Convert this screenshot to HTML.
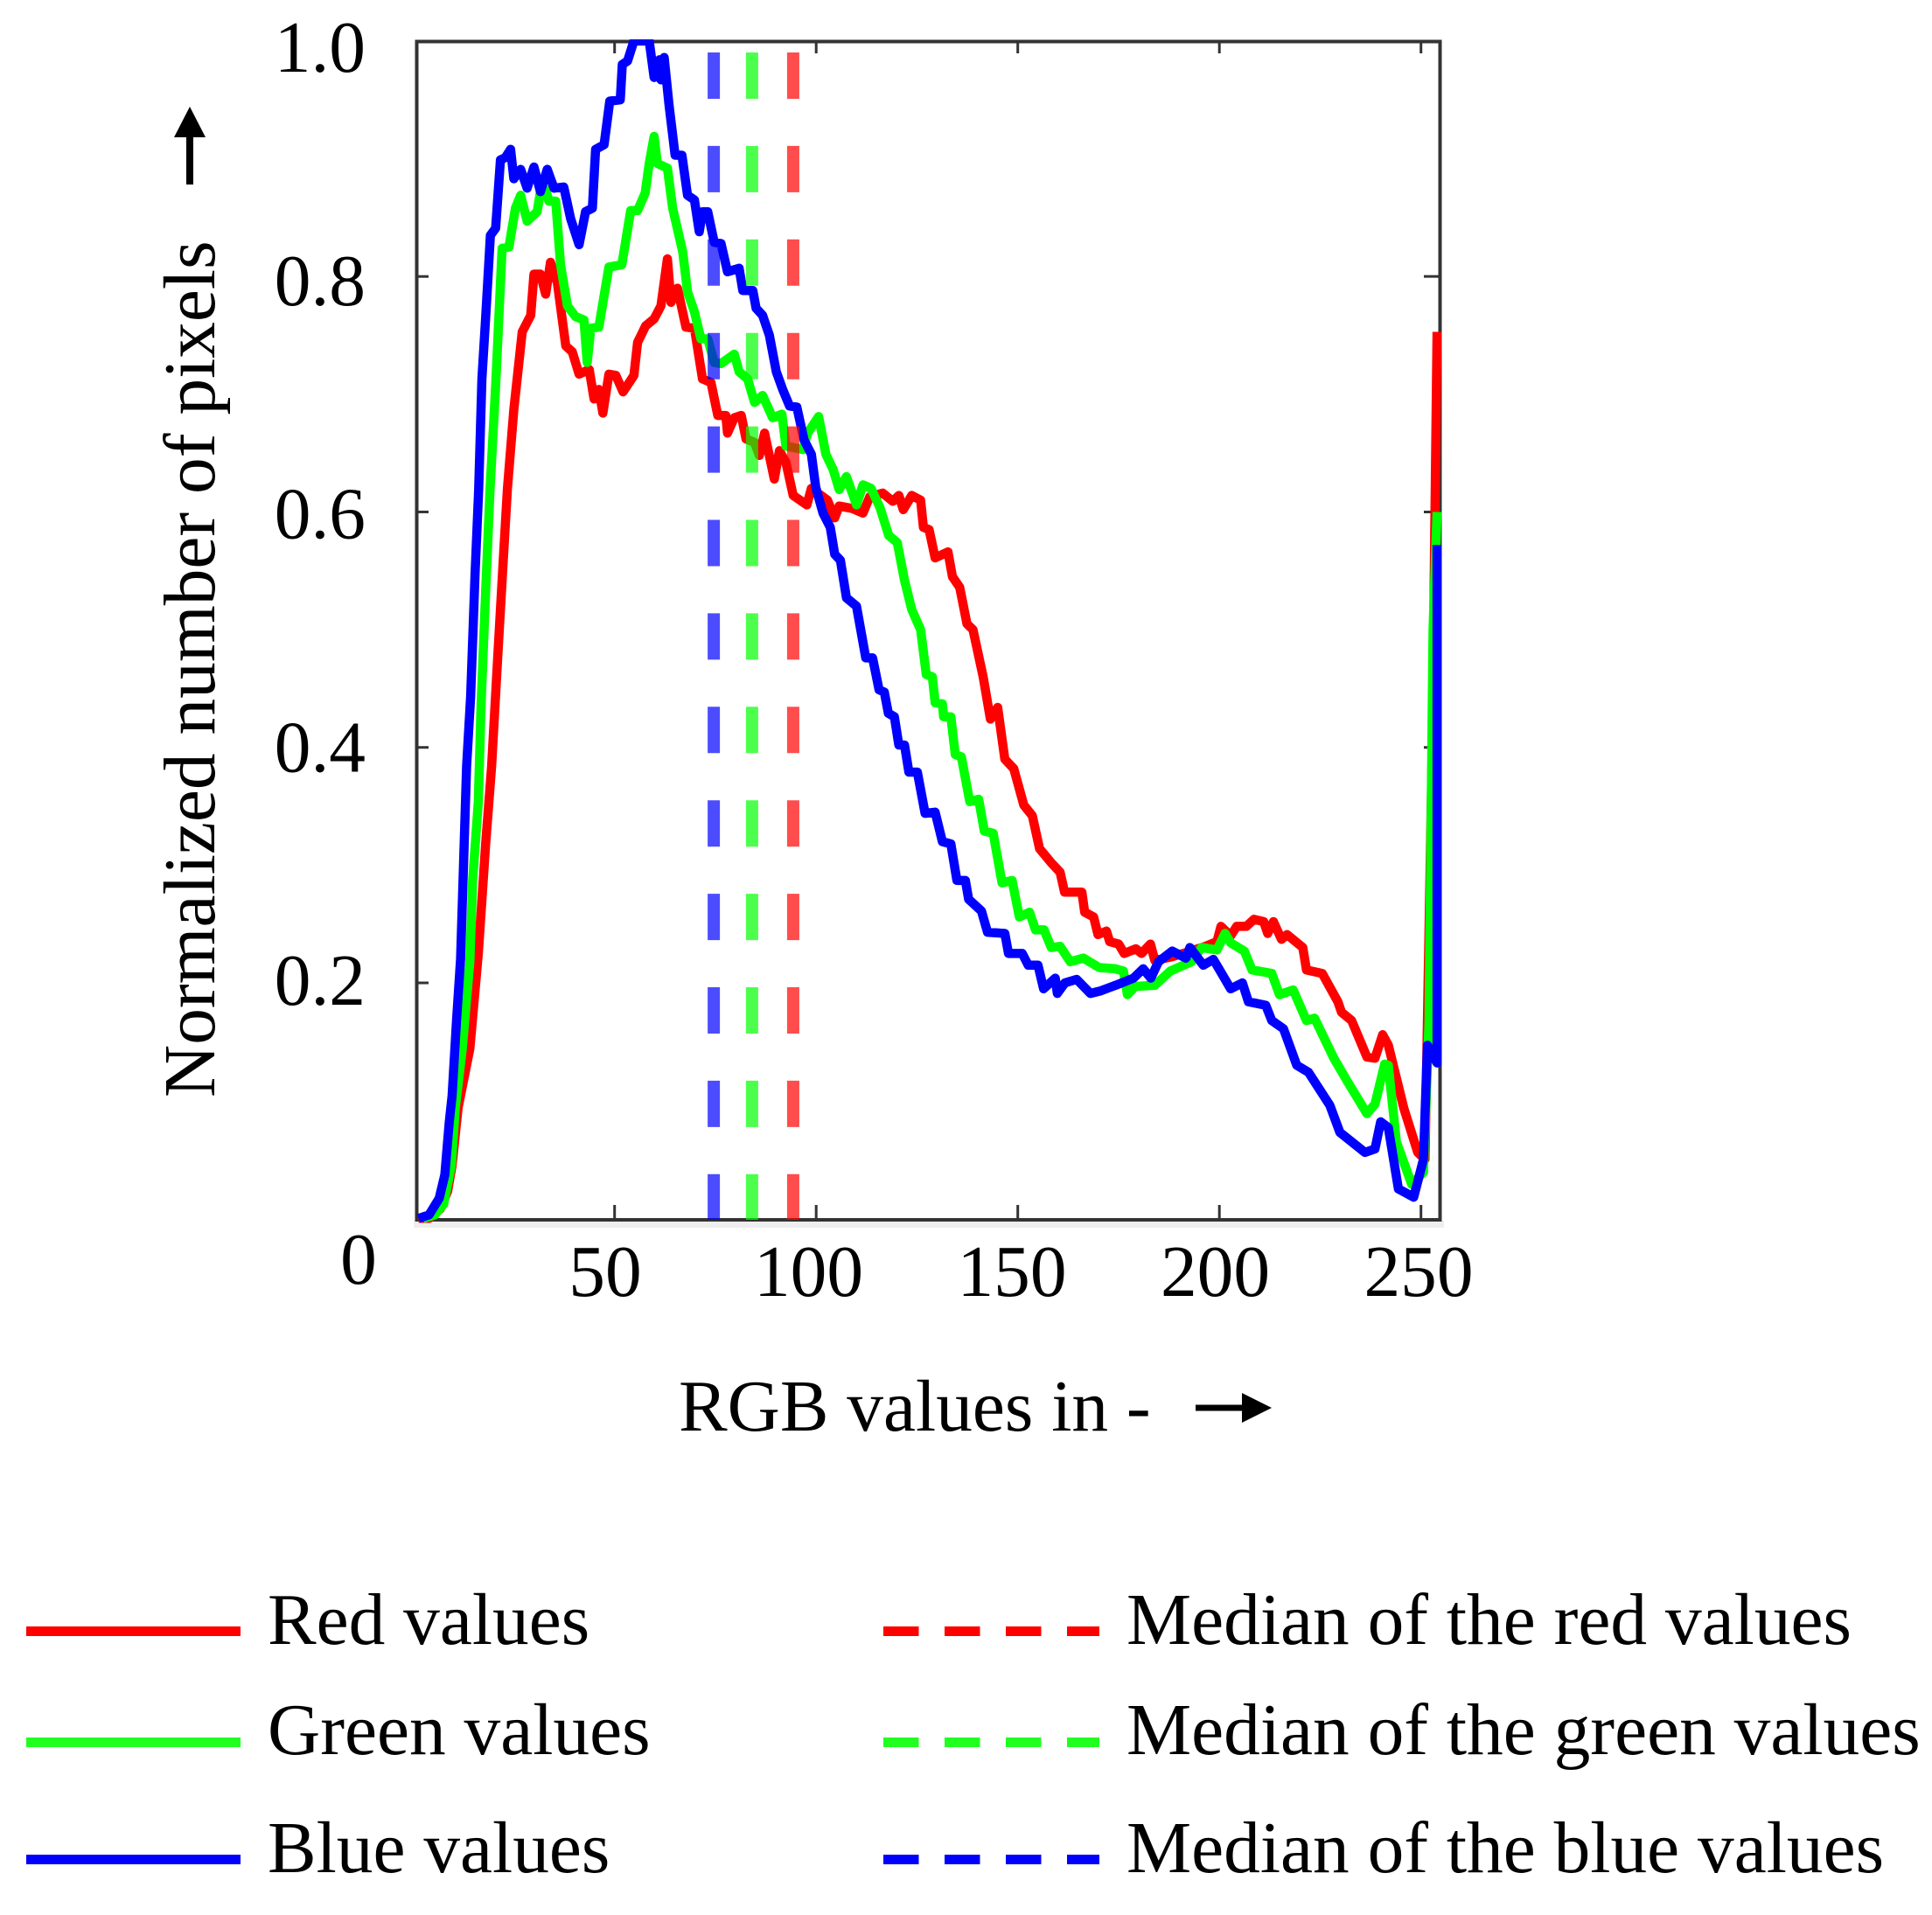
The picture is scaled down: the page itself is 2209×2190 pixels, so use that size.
<!DOCTYPE html>
<html lang="en">
<head>
<meta charset="utf-8">
<title>RGB histogram</title>
<style>
html,body{margin:0;padding:0;background:#fff;}
svg{display:block;}
text{font-family:"Liberation Serif",serif;font-size:83.4px;fill:#000;}
</style>
</head>
<body>
<svg id="chart" xmlns="http://www.w3.org/2000/svg" width="2209" height="2190" viewBox="0 0 2209 2190">
  <defs>
    <clipPath id="plot-clip"><rect x="473" y="45" width="1176" height="1356"></rect></clipPath>
  </defs>
  <rect x="473" y="1396" width="1178" height="8" fill="#eeeeee"></rect>
  <rect x="476.5" y="47.5" width="1170" height="1347.5" fill="none" stroke="#333333" stroke-width="4"></rect>
  <g id="ticks"></g>
  <g id="tick-labels"></g>
  <g id="series" clip-path="url(#plot-clip)"></g>
  <g id="medians"></g>

  <text transform="translate(245,1255) rotate(-90)">Normalized number of pixels</text>
  <polygon points="213,211 221,211 221,157 235,157 217,122 199,157 213,157" fill="#000"></polygon>
  <text x="776" y="1636">RGB values in -</text>
  <polygon points="1367,1606.5 1420,1606.5 1420,1593 1454,1610 1420,1627 1420,1613.5 1367,1613.5" fill="#000"></polygon>

  <g>
    <rect x="30" y="1860" width="245" height="11" fill="#ff0000"></rect>
    <text x="306" y="1880">Red values</text>
    <rect x="30" y="1987" width="245" height="11" fill="#20ff20"></rect>
    <text x="306" y="2006">Green values</text>
    <rect x="30" y="2121" width="245" height="11" fill="#0000ff"></rect>
    <text x="306" y="2141">Blue values</text>
    <line x1="1010" x2="1257" y1="1865.5" y2="1865.5" stroke="#ff0000" stroke-width="11" stroke-dasharray="40.5 29.5"></line>
    <text x="1288" y="1880">Median of the red values</text>
    <line x1="1010" x2="1257" y1="1992.5" y2="1992.5" stroke="#20ff20" stroke-width="11" stroke-dasharray="40.5 29.5"></line>
    <text x="1288" y="2006">Median of the green values</text>
    <line x1="1010" x2="1257" y1="2126.5" y2="2126.5" stroke="#0000ff" stroke-width="11" stroke-dasharray="40.5 29.5"></line>
    <text x="1288" y="2141">Median of the blue values</text>
  </g>
</svg>
<script>
const xTickValues = [50, 100, 150, 200, 250];
const xTickLabels = ["50", "100", "150", "200", "250"];
const yTickValues = [0.2, 0.4, 0.6, 0.8];
const yTickLabels = ["0.2", "0.4", "0.6", "0.8", "1.0"];
const yLabelValues = [0.2, 0.4, 0.6, 0.8, 1.0];
const medianRed = 94.3;
const medianGreen = 84.1;
const medianBlue = 74.6;

const redX = [1.4,4,6.8,8.6,9.7,11.2,14.1,16.2,18,19.5,20.9,22.4,23.4,25,27.1,29.2,30,31.6,32.9,34.1,35.8,37.9,39.5,41.2,43.7,44.9,46.1,47.1,48.6,50.3,52.1,54.8,55.7,57.7,59.8,61.5,63.1,64,65.6,67.7,69.8,71.8,73.9,75.6,77.6,78,79.7,81.4,82.6,84.7,85.9,87.2,89.6,90.9,92.5,94.3,97.7,98.8,102.8,104.6,105.7,108.9,111.6,113.3,116.5,119,120.5,121.6,123.7,125.9,126.6,128,129.5,132.7,133.8,135.6,137.4,138.9,141.4,143.2,145,146.8,149,151.5,153.6,155.4,158.3,160.5,161.6,165.9,166.6,168.8,169.9,172,172.8,175,176.4,179.3,180.7,182.9,184,188,192,196.5,199.4,200.4,202.8,204.3,206.7,208.6,211,212,213.4,215.4,216.8,220.7,221.6,225.5,229.4,230.3,232.8,236.6,238.6,240.5,241.9,245.8,249.2,251,252.8,254];
const redY = [0,0,0.008,0.023,0.045,0.094,0.144,0.225,0.317,0.384,0.469,0.56,0.619,0.687,0.753,0.767,0.802,0.802,0.785,0.812,0.795,0.741,0.736,0.717,0.721,0.696,0.704,0.684,0.717,0.716,0.702,0.716,0.744,0.758,0.764,0.775,0.815,0.778,0.79,0.757,0.756,0.713,0.71,0.682,0.682,0.667,0.68,0.682,0.662,0.659,0.648,0.667,0.628,0.652,0.642,0.614,0.606,0.62,0.61,0.595,0.605,0.603,0.599,0.613,0.616,0.609,0.614,0.602,0.614,0.61,0.587,0.585,0.561,0.566,0.545,0.536,0.505,0.5,0.46,0.424,0.434,0.39,0.382,0.351,0.342,0.314,0.302,0.294,0.277,0.277,0.26,0.256,0.241,0.244,0.235,0.233,0.225,0.229,0.225,0.233,0.219,0.222,0.226,0.231,0.235,0.248,0.24,0.248,0.248,0.254,0.252,0.242,0.252,0.237,0.241,0.23,0.211,0.208,0.184,0.175,0.168,0.137,0.136,0.156,0.147,0.093,0.056,0.05,0.4,0.753];

const greenX = [2.5,5.4,7.6,9.5,10.5,12.2,14.1,14.8,16.2,16.9,18,19.1,20.5,22.1,23.8,25.4,26.7,28.3,30.8,31.6,32.9,33.7,35.4,36.6,38.3,40.3,42.4,43.2,44.1,46.1,48.6,51.8,54,55.7,57.6,58.6,59.8,60.6,63.1,64.4,66.9,68.1,69.8,71.4,73.1,74.7,76.4,79.7,80.9,83,84.7,86.7,89.2,91.5,92.5,96.7,97.9,100.6,102.4,104.2,105.7,107.5,110,111.6,113.6,115.8,118,120.1,121.9,123.7,125.9,127.3,128.8,129.5,131.3,131.6,133.4,134.5,136,138.1,140.3,141.7,143.9,146.1,148.6,150.4,152.9,154.4,156.5,158.3,160.5,163,166.3,170.2,174.2,176.2,177.2,179.1,184,187.8,193.1,195.6,199.4,201.4,202.8,206.2,208.1,213,214.9,218.3,221.6,223.6,228.4,231.8,236.6,238.6,241,241.9,243.9,247.7,250.6,252,253,254];
const greenY = [0,0.003,0.012,0.045,0.094,0.143,0.218,0.287,0.354,0.437,0.531,0.619,0.707,0.824,0.825,0.858,0.869,0.847,0.855,0.872,0.874,0.864,0.864,0.81,0.775,0.766,0.763,0.727,0.756,0.757,0.808,0.81,0.856,0.856,0.871,0.896,0.919,0.896,0.892,0.858,0.821,0.787,0.77,0.747,0.747,0.727,0.726,0.734,0.719,0.713,0.693,0.699,0.68,0.683,0.656,0.653,0.667,0.681,0.649,0.636,0.619,0.63,0.606,0.623,0.62,0.604,0.58,0.574,0.542,0.517,0.5,0.462,0.46,0.438,0.437,0.426,0.426,0.394,0.392,0.354,0.356,0.329,0.327,0.285,0.287,0.256,0.26,0.245,0.245,0.23,0.231,0.218,0.221,0.213,0.212,0.21,0.19,0.197,0.198,0.21,0.218,0.23,0.228,0.242,0.234,0.227,0.211,0.208,0.19,0.194,0.168,0.17,0.136,0.116,0.089,0.097,0.131,0.13,0.065,0.029,0.039,0.167,0.5,0.6];

const blueX = [1.4,4,6.5,7.9,9,9.7,10.8,11.8,13.3,14.3,15.4,16.3,17.1,18,19.2,20.5,21.7,22.9,24.2,25,26.7,28.3,30,31.6,33.3,35,37.4,39.1,41.2,42.8,44.5,45.3,47.4,48.8,51.4,51.9,53.2,54.8,58.6,59.8,61.1,61.5,62.3,63.5,65,66.7,68.1,69.8,71,71.8,73.1,74.7,76.4,78,80.9,81.8,84.3,85.1,86.7,88.4,90.1,91.7,93.4,95.2,97,98.8,99.9,101.7,103.5,104.6,106,107.5,110,112.3,114,115.6,116.9,117.9,119.4,120.5,121.9,123,125.1,127,129.5,131.3,133.4,134.9,137,137.8,141,142.5,146.8,147.7,151.1,152.6,155,156.4,159.3,159.8,161.7,164.6,168,170.4,174.3,178.7,181.1,183,184.9,188.3,191.7,192.7,196,198.5,202.8,205.7,207.2,211.5,213,215.9,219.2,222.1,227.4,229.9,236.1,238.6,240,241.9,244.4,248.2,250.6,251.6,254,254];
const blueY = [0,0.003,0.017,0.037,0.082,0.104,0.168,0.22,0.384,0.443,0.548,0.619,0.713,0.764,0.835,0.841,0.899,0.901,0.908,0.883,0.891,0.875,0.893,0.872,0.891,0.875,0.876,0.849,0.827,0.855,0.858,0.908,0.912,0.949,0.95,0.98,0.983,1,1,0.969,0.984,0.967,0.986,0.946,0.903,0.903,0.869,0.865,0.838,0.855,0.855,0.829,0.828,0.804,0.807,0.788,0.788,0.773,0.767,0.75,0.719,0.704,0.69,0.689,0.661,0.649,0.621,0.599,0.587,0.564,0.559,0.527,0.52,0.476,0.476,0.449,0.447,0.429,0.426,0.402,0.402,0.379,0.379,0.344,0.345,0.32,0.318,0.287,0.287,0.271,0.261,0.243,0.242,0.225,0.225,0.215,0.215,0.195,0.204,0.191,0.2,0.203,0.191,0.193,0.198,0.204,0.212,0.204,0.218,0.227,0.221,0.23,0.215,0.22,0.195,0.2,0.184,0.181,0.168,0.161,0.13,0.124,0.096,0.073,0.056,0.059,0.082,0.077,0.025,0.018,0.05,0.147,0.132,0.572];

const SVG_NS = "http://www.w3.org/2000/svg";
function xPos(v) { return 472.2 + 4.61 * v; }
function yPos(v) { return 1393.3 - 1346.4 * v; }
function xLabelPos(v) { return 692 + (v - 50) * 4.65; }
function yLabelPos(v) { return 82 + (1 - v) * 1333.75; }

function make(tag, attrs, parent) {
  const el = document.createElementNS(SVG_NS, tag);
  for (const key in attrs) { el.setAttribute(key, attrs[key]); }
  parent.appendChild(el);
  return el;
}

const tickGroup = document.getElementById("ticks");
const labelGroup = document.getElementById("tick-labels");
const seriesGroup = document.getElementById("series");
const medianGroup = document.getElementById("medians");

xTickValues.forEach(function (v, i) {
  const bottom = make("line", {x1: xPos(v), x2: xPos(v), y1: 1395, y2: 1378, stroke: "#333333", "stroke-width": 3}, tickGroup);
  
  
  const top = make("line", {x1: xPos(v), x2: xPos(v), y1: 47, y2: 61, stroke: "#333333", "stroke-width": 3}, tickGroup);
  
  
  const label = make("text", {x: xLabelPos(v), y: 1482, "text-anchor": "middle"}, labelGroup);
  label.textContent = xTickLabels[i];
  
  
});

yTickValues.forEach(function (v) {
  const left = make("line", {x1: 476, x2: 490, y1: yPos(v), y2: yPos(v), stroke: "#333333", "stroke-width": 3}, tickGroup);
  
  
  const right = make("line", {x1: 1628, x2: 1646, y1: yPos(v), y2: yPos(v), stroke: "#333333", "stroke-width": 3}, tickGroup);
  
  
});

yLabelValues.forEach(function (v, i) {
  const label = make("text", {x: 418, y: yLabelPos(v), "text-anchor": "end"}, labelGroup);
  label.textContent = yTickLabels[i];
  
  
});

const originLabel = make("text", {x: 410, y: 1468, "text-anchor": "middle"}, labelGroup);
originLabel.textContent = "0";



function drawSeries(xs, ys, color) {
  const pts = xs.map(function (x, i) { return xPos(x).toFixed(1) + "," + yPos(ys[i]).toFixed(1); }).join(" ");
  return make("polyline", {points: pts, fill: "none", stroke: color, "stroke-width": 10.5, "stroke-linejoin": "round"}, seriesGroup);
}
const redLine = drawSeries(redX, redY, "#ff0000");


const greenLine = drawSeries(greenX, greenY, "#00ff00");


const blueLine = drawSeries(blueX, blueY, "#0000ff");



function drawMedian(v, color) {
  return make("line", {x1: xPos(v), x2: xPos(v), y1: 60, y2: 1395, stroke: color, "stroke-width": 14, "stroke-opacity": 0.7, "stroke-dasharray": "53 53.9"}, medianGroup);
}
const redMedian = drawMedian(medianRed, "#ff0000");


const greenMedian = drawMedian(medianGreen, "#00ff00");


const blueMedian = drawMedian(medianBlue, "#0000ff");


</script>
</body>
</html>
